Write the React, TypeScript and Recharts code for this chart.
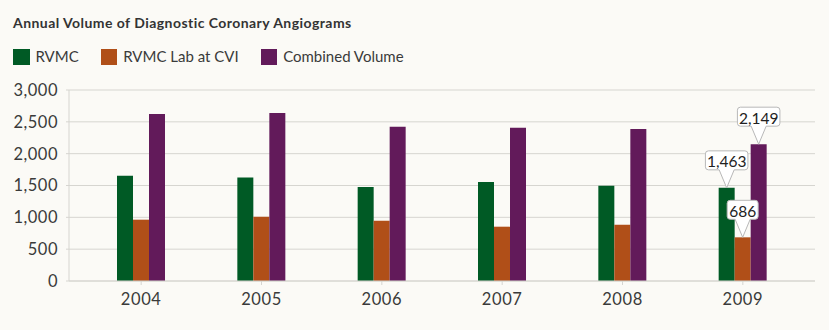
import { BarChart, Bar, XAxis, YAxis, CartesianGrid, LabelList } from 'recharts'

const years = ['2004', '2005', '2006', '2007', '2008', '2009']
const rvmc = [1654, 1627, 1476, 1555, 1497, 1463]
const rvmcLabCvi = [963, 1010, 947, 853, 884, 686]
const combined = [2623, 2638, 2423, 2408, 2387, 2149]
const yTicks = [0, 500, 1000, 1500, 2000, 2500, 3000]
const calloutYear = '2009'

const seriesInfo = [
  { key: 'rvmc', name: 'RVMC', color: '#005a25' },
  { key: 'lab', name: 'RVMC Lab at CVI', color: '#b04f18' },
  { key: 'combined', name: 'Combined Volume', color: '#621a5a' },
]

const data = years.map((year, i) => ({
  year,
  rvmc: rvmc[i],
  lab: rvmcLabCvi[i],
  combined: combined[i],
}))

const FONT = 'Lato, "Noto Sans", sans-serif'
const TEXT = '#3a3a3a'
const GRID = '#d6d5d0'

const fmt = (v: number) => Number(v).toLocaleString('en-US')

// speech-bubble style label pointing down at the bar top
function Callout(props: any) {
  const { x, y, width, value } = props
  if (value === null || value === undefined) return null
  const text = fmt(value)
  const digits = text.replace(/,/g, '').length
  const commas = text.length - digits
  const boxW = digits * 8 + commas * 3.5 + 7
  const boxH = 19
  const ptrH = 18
  const hw = 7.5
  const r = 3
  const cx = x + width / 2
  const bottom = y - ptrH
  const top = bottom - boxH
  const left = cx - boxW / 2
  const right = cx + boxW / 2
  const d = `M${left + r},${top} H${right - r} Q${right},${top} ${right},${top + r} V${bottom - r} Q${right},${bottom} ${right - r},${bottom} H${cx + hw} L${cx},${y} L${cx - hw},${bottom} H${left + r} Q${left},${bottom} ${left},${bottom - r} V${top + r} Q${left},${top} ${left + r},${top} Z`
  return (
    <g>
      <path d={d} fill="#ffffff" stroke="#b8b8b8" strokeWidth={1} />
      <text
        x={cx}
        y={top + boxH / 2 + 1}
        textAnchor="middle"
        dominantBaseline="central"
        fontFamily={FONT}
        fontSize={15.5}
        fill="#222"
      >
        {text}
      </text>
    </g>
  )
}

export default function App() {
  return (
    <div
      style={{
        position: 'absolute',
        left: 0,
        top: 0,
        width: 829,
        height: 330,
        background: '#fbfaf6',
        fontFamily: FONT,
      }}
    >
      <div
        style={{
          position: 'absolute',
          left: 13,
          top: 16,
          fontSize: 14,
          lineHeight: '14px',
          fontWeight: 700,
          color: '#333',
          letterSpacing: 0.45,
          whiteSpace: 'nowrap',
        }}
      >
        Annual Volume of Diagnostic Coronary Angiograms
      </div>
      <div style={{ position: 'absolute', left: 13, top: 48, display: 'flex', alignItems: 'center' }}>
        {seriesInfo.map((s) => (
          <div key={s.key} style={{ display: 'flex', alignItems: 'center', marginRight: 22 }}>
            <div style={{ width: 16.5, height: 16, background: s.color, marginRight: 6 }} />
            <span style={{ fontSize: 15, lineHeight: '17px', color: TEXT, whiteSpace: 'nowrap' }}>{s.name}</span>
          </div>
        ))}
      </div>
      <div style={{ position: 'absolute', left: 0, top: 0 }}>
        <BarChart
          width={829}
          height={330}
          data={data}
          margin={{ top: 90, right: 14, bottom: 19, left: 9 }}
          barGap={0}
          barSize={16}
        >
          <CartesianGrid vertical={false} stroke={GRID} />
          <XAxis
            dataKey="year"
            padding={{ left: 12, right: 12 }}
            stroke={GRID}
            tickSize={4}
            tickMargin={8}
            tick={{ fill: TEXT, fontSize: 16.5, fontFamily: FONT, letterSpacing: 0.6 }}
          />
          <YAxis
            width={60}
            domain={[0, 3000]}
            ticks={yTicks}
            interval={0}
            stroke={GRID}
            tickSize={3}
            tickMargin={8}
            tickFormatter={fmt}
            tick={{ fill: TEXT, fontSize: 16.5, fontFamily: FONT, letterSpacing: 0.5 }}
          />
          {seriesInfo.map((s) => (
            <Bar key={s.key} dataKey={s.key} fill={s.color} isAnimationActive={false}>
              <LabelList
                dataKey={(d: any) => (d.year === calloutYear ? d[s.key] : null)}
                content={<Callout />}
              />
            </Bar>
          ))}
        </BarChart>
      </div>
    </div>
  )
}
